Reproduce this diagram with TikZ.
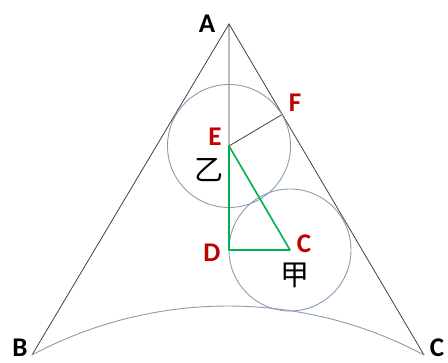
\documentclass[tikz,border=0pt]{standalone}
\usepackage{fontspec}
\setmainfont{Carlito}
\newfontfamily\cjk{Noto Sans CJK SC}
\definecolor{lbl}{HTML}{C00000}
\definecolor{cir}{HTML}{8A9BB2}
\definecolor{grn}{HTML}{00B050}
\begin{document}
\begin{tikzpicture}[x=1pt,y=1pt,
  edge/.style={draw=black!75, line width=0.8pt},
  circ/.style={draw=cir, line width=0.9pt},
  tri/.style={draw=grn, line width=1.6pt, line join=round},
  blk/.style={font=\fontsize{27}{27}\selectfont\bfseries, text=black, inner sep=0pt},
  red/.style={font=\fontsize{27}{27}\selectfont\bfseries, text=lbl, inner sep=0pt},
  han/.style={font=\fontsize{29}{29}\selectfont\cjk, text=black, inner sep=0pt}]
\useasboundingbox (0,0) rectangle (448,363);
\coordinate (A) at (229,339);
\coordinate (B) at (32,8);
\coordinate (C) at (424,8);
\coordinate (E) at (229,217);
\coordinate (D) at (229,113);
\coordinate (Cc) at (290,113);
\coordinate (F) at (282.3,248.6);
% triangle
\draw[edge] (B) -- (A) -- (C);
\draw[edge] (A) -- (E) -- (F);
% circles
\draw[circ] (E) circle[radius=61.5];
\draw[circ] (Cc) circle[radius=61];
% bottom arc
\draw[circ] (B) arc[start angle=118.07, end angle=61.93, radius=416.5];
% green triangle
\draw[tri] (E) -- (D) -- (Cc) -- cycle;
% labels
\node[blk] (lA) at (207,339) {A};
\node[blk] (lB) at (20,15) {B};
\node[blk] (lC) at (437,15) {C};
\node[red] (lE) at (215,226) {E};
\node[red] (lF) at (295,260) {F};
\node[red] (lD) at (212,110) {D};
\node[red] (lCc) at (304,119) {C};
\node[han] (yi) at (209,193) {乙};
\node[han] (jia) at (295,88) {甲};
\end{tikzpicture}
\end{document}
